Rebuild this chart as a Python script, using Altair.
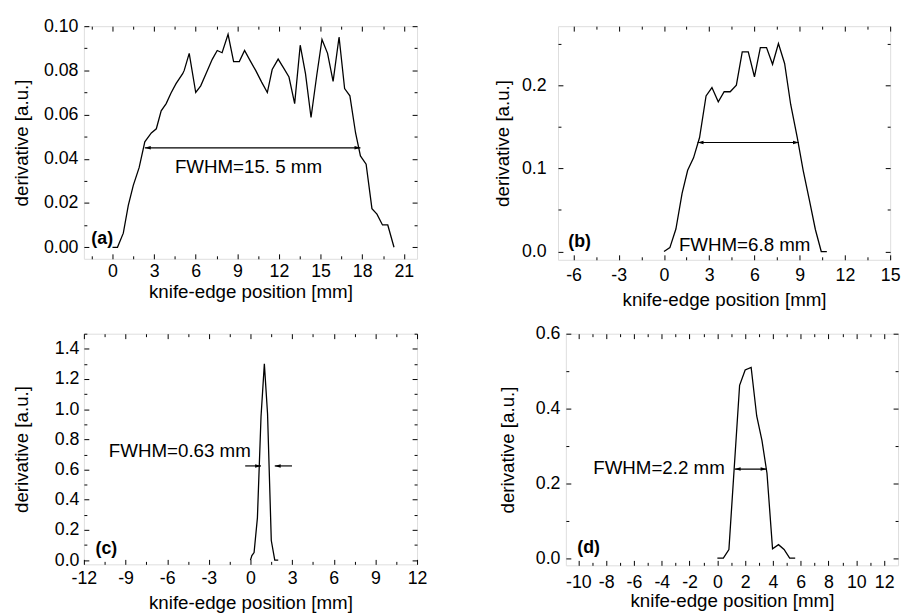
import altair as alt
import pandas as pd

FONT = "Liberation Sans"
FS_LAB = 18      # tick labels
FS_YT = 19       # y-axis title
FS_XT = 19       # x-axis title
FS_ANN = 19      # FWHM annotations
FS_TAG = 18      # (a) (b) ...

# ---------------- data ----------------
# (a)
a_x = [0, 0.36, 0.78, 1.14, 1.5, 1.92, 2.33, 2.8, 3.16, 3.51, 3.87, 4.22, 4.58, 5.06, 5.17,
       5.53, 6.0, 6.36, 6.84, 7.19, 7.55, 7.9, 8.33, 8.73, 9.14, 9.52, 9.92, 10.32, 10.75,
       11.16, 11.51, 11.94, 12.34, 12.72, 13.13, 13.53, 13.91, 14.31, 14.72, 15.1, 15.5,
       15.9, 16.33, 16.73, 17.11, 17.52, 17.87, 18.28, 18.7, 19.06, 19.46, 19.84, 20.29]
a_y = [0, 0, 0.0064, 0.019, 0.028, 0.036, 0.0477, 0.0517, 0.0536, 0.0617, 0.065, 0.0698,
       0.074, 0.0785, 0.080, 0.0877, 0.070, 0.073, 0.080, 0.085, 0.089, 0.088, 0.0963,
       0.084, 0.084, 0.089, 0.0844, 0.080, 0.0747, 0.070, 0.0804, 0.0851, 0.081, 0.077,
       0.065, 0.0914, 0.0785, 0.0587, 0.0777, 0.094, 0.0877, 0.075, 0.0951, 0.0718, 0.0685,
       0.0517, 0.0413, 0.0376, 0.0175, 0.015, 0.0101, 0.0101, 0.0]
# (b)
b_x = [0, 0.39, 0.79, 1.2, 1.57, 1.96, 2.36, 2.79, 3.18, 3.6, 3.99, 4.39, 4.8, 5.19, 5.59,
       6.0, 6.39, 6.8, 7.2, 7.59, 8.0, 8.4, 8.84, 9.23, 9.64, 10.04, 10.43, 10.8]
b_y = [0, 0.0047, 0.027, 0.07, 0.0976, 0.1126, 0.137, 0.187, 0.197, 0.18, 0.192, 0.192,
       0.2, 0.24, 0.24, 0.21, 0.245, 0.245, 0.225, 0.25, 0.226, 0.177, 0.137, 0.0976,
       0.062, 0.0265, 0, 0]
# (c)
c_x = [0, 0.1, 0.26, 0.5, 0.76, 1.0, 1.23, 1.5, 1.75, 2.0]
c_y = [0, 0.03, 0.05, 0.28, 0.95, 1.30, 0.97, 0.13, 0, 0]
# (d)
d_x = [0, 0.43, 0.83, 1.6, 2.0, 2.43, 2.83, 3.21, 3.57, 3.97, 4.4, 4.8, 5.2, 5.6]
d_y = [0, 0, 0.023, 0.462, 0.503, 0.51, 0.38, 0.314, 0.227, 0.025, 0.036, 0.023, 0, 0]

# annotations: text labels
a_txt = {"x": [9.8, -0.74], "y": [0.0364, 0.0037], "t": ["FWHM=15. 5 mm", "(a)"], "w": ["normal", "bold"]}
b_txt = {"x": [5.35, -5.6], "y": [0.0075, 0.0119], "t": ["FWHM=6.8 mm", "(b)"], "w": ["normal", "bold"]}
c_txt = {"x": [-5.09, -10.38], "y": [0.722, 0.076], "t": ["FWHM=0.63 mm", "(c)"], "w": ["normal", "bold"]}
d_txt = {"x": [-4.2, -9.26], "y": [0.24, 0.027], "t": ["FWHM=2.2 mm", "(d)"], "w": ["normal", "bold"]}

# arrows: shafts (x1, x2, y) and heads (x, y, dir)
a_shaft = {"x1": [2.33], "x2": [17.87], "y": [0.045]}
a_head = {"x": [2.33, 17.87], "y": [0.045, 0.045], "d": ["left", "right"]}
b_shaft = {"x1": [2.23], "x2": [8.95], "y": [0.131]}
b_head = {"x": [2.23, 8.95], "y": [0.131, 0.131], "d": ["left", "right"]}
c_shaft = {"x1": [-0.38, 1.75], "x2": [0.76, 2.99], "y": [0.624, 0.624]}
c_head = {"x": [0.76, 1.75], "y": [0.624, 0.624], "d": ["right", "left"]}
d_shaft = {"x1": [1.25], "x2": [3.54], "y": [0.238]}
d_head = {"x": [1.25, 3.54], "y": [0.238, 0.238], "d": ["left", "right"]}

# axes: domains, major & minor ticks
a_xdom, a_ydom = [-2.06, 21.95], [-0.0052, 0.10]
a_xmaj = [0, 3, 6, 9, 12, 15, 18, 21]
a_xmin = [-1.5, 1.5, 4.5, 7.5, 10.5, 13.5, 16.5, 19.5]
a_ymaj = [0.0, 0.02, 0.04, 0.06, 0.08, 0.10]
a_ymin = [0.01, 0.03, 0.05, 0.07, 0.09]

b_xdom, b_ydom = [-7.03, 15], [-0.0099, 0.2708]
b_xmaj = [-6, -3, 0, 3, 6, 9, 12, 15]
b_xmin = [-4.5, -1.5, 1.5, 4.5, 7.5, 10.5, 13.5]
b_ymaj = [0.0, 0.1, 0.2]
b_ymin = [0.05, 0.15, 0.25]

c_xdom, c_ydom = [-12, 12], [-0.028, 1.5]
c_xmaj = [-12, -9, -6, -3, 0, 3, 6, 9, 12]
c_xmin = [-10.5, -7.5, -4.5, -1.5, 1.5, 4.5, 7.5, 10.5]
c_ymaj = [0.0, 0.2, 0.4, 0.6, 0.8, 1.0, 1.2, 1.4]
c_ymin = [0.1, 0.3, 0.5, 0.7, 0.9, 1.1, 1.3, 1.5]

d_xdom, d_ydom = [-10.9, 13], [-0.0193, 0.6]
d_xmaj = [-10, -8, -6, -4, -2, 0, 2, 4, 6, 8, 10, 12]
d_xmin = [-9, -7, -5, -3, -1, 1, 3, 5, 7, 9, 11]
d_ymaj = [0.0, 0.2, 0.4, 0.6]
d_ymin = [0.1, 0.3, 0.5]

HEAD_LEFT = "M0,0L2,-0.6L2,0.6Z"
HEAD_RIGHT = "M0,0L-2,-0.6L-2,0.6Z"


def tick_layer(df, xs, ys, xo, yo, xv, yv, size):
    def ax(orient, vals):
        return alt.Axis(orient=orient, values=vals, labels=False, domain=False, grid=False,
                        ticks=True, tickSize=alt.ExprRef(expr=str(-size)), tickColor="black",
                        tickWidth=1, title=None, minExtent=0, maxExtent=0)
    return alt.Chart(df).mark_point(opacity=0).encode(
        x=alt.X("x:Q", scale=xs, axis=ax(xo, xv)),
        y=alt.Y("y:Q", scale=ys, axis=ax(yo, yv)),
    )


def panel(xv, yv, txt, shaft, head, xdom, ydom, xmaj, xmin, ymaj, ymin, yfmt,
          W, H, xlp, xT, ylp, yT):
    df = pd.DataFrame({"x": xv, "y": yv})
    xs = alt.Scale(domain=xdom, nice=False, zero=False)
    ys = alt.Scale(domain=ydom, nice=False, zero=False)
    line = alt.Chart(df).mark_line(color="black", strokeWidth=1.3).encode(
        x=alt.X("x:Q", scale=xs, axis=alt.Axis(
            orient="bottom", values=xmaj, labelExpr="datum.value + ''", ticks=False,
            domain=False, grid=False, labelFont=FONT, labelFontSize=FS_LAB,
            labelColor="black", labelPadding=xlp, labelFlush=False, labelOverlap=False,
            title="knife-edge position [mm]", titleFont=FONT, titleFontSize=FS_XT,
            titleFontWeight="normal", titleColor="black", titlePadding=0,
            minExtent=xT, maxExtent=xT)),
        y=alt.Y("y:Q", scale=ys, axis=alt.Axis(
            orient="left", values=ymaj, format=yfmt, ticks=False, domain=False, grid=False,
            labelFont=FONT, labelFontSize=FS_LAB, labelColor="black", labelPadding=ylp,
            labelFlush=False, labelOverlap=False,
            title="derivative [a.u.]", titleFont=FONT, titleFontSize=FS_YT,
            titleFontWeight="normal", titleColor="black", titlePadding=0,
            minExtent=yT, maxExtent=yT)),
    )
    ticks = [
        tick_layer(df, xs, ys, "bottom", "left", xmaj, ymaj, 5),
        tick_layer(df, xs, ys, "top", "right", xmaj, ymaj, 5),
        tick_layer(df, xs, ys, "bottom", "left", xmin, ymin, 3),
        tick_layer(df, xs, ys, "top", "right", xmin, ymin, 3),
    ]
    tdf = pd.DataFrame(txt)
    texts = []
    for w, fs in [("normal", FS_ANN), ("bold", FS_TAG)]:
        texts.append(
            alt.Chart(tdf).transform_filter(f"datum.w == '{w}'").mark_text(
                font=FONT, fontSize=fs, color="black", fontWeight=w).encode(
                x=alt.X("x:Q", scale=xs, axis=None),
                y=alt.Y("y:Q", scale=ys, axis=None),
                text="t:N",
            )
        )
    sh = alt.Chart(pd.DataFrame(shaft)).mark_rule(color="black", strokeWidth=1.2).encode(
        x=alt.X("x1:Q", scale=xs, axis=None), x2="x2:Q",
        y=alt.Y("y:Q", scale=ys, axis=None),
    )
    hdf = pd.DataFrame(head)
    hl = alt.Chart(hdf).transform_filter("datum.d == 'left'").mark_point(
        shape=HEAD_LEFT, filled=True, size=36, color="black", opacity=1).encode(
        x=alt.X("x:Q", scale=xs, axis=None), y=alt.Y("y:Q", scale=ys, axis=None))
    hr = alt.Chart(hdf).transform_filter("datum.d == 'right'").mark_point(
        shape=HEAD_RIGHT, filled=True, size=36, color="black", opacity=1).encode(
        x=alt.X("x:Q", scale=xs, axis=None), y=alt.Y("y:Q", scale=ys, axis=None))
    return alt.layer(line, *ticks, *texts, sh, hl, hr).resolve_axis(
        x="independent", y="independent").properties(width=W, height=H)


pa = panel(a_x, a_y, a_txt, a_shaft, a_head, a_xdom, a_ydom, a_xmaj, a_xmin, a_ymaj, a_ymin,
           ".2f", 338, 236, 4, 24, 6, 53)
pb = panel(b_x, b_y, b_txt, b_shaft, b_head, b_xdom, b_ydom, b_xmaj, b_xmin, b_ymaj, b_ymin,
           ".1f", 337, 237, 7, 31, 12, 46)
pc = panel(c_x, c_y, c_txt, c_shaft, c_head, c_xdom, c_ydom, c_xmaj, c_xmin, c_ymaj, c_ymin,
           ".1f", 338, 234, 5, 30, 5, 53)
pd_ = panel(d_x, d_y, d_txt, d_shaft, d_head, d_xdom, d_ydom, d_xmaj, d_xmin, d_ymaj, d_ymin,
            ".1f", 337, 235, 8, 27, 6, 49)

row1 = alt.hconcat(pa, pb, spacing=76)
row2 = alt.hconcat(pc, pd_, spacing=71)
chart = alt.vconcat(row1, row2, spacing=14).properties(
    padding={"left": 4, "top": 4, "right": 0, "bottom": 0}
).configure_view(stroke="black", strokeWidth=1).configure(background="white")

chart.save("out.html", embed_options={"renderer": "svg", "actions": False})
